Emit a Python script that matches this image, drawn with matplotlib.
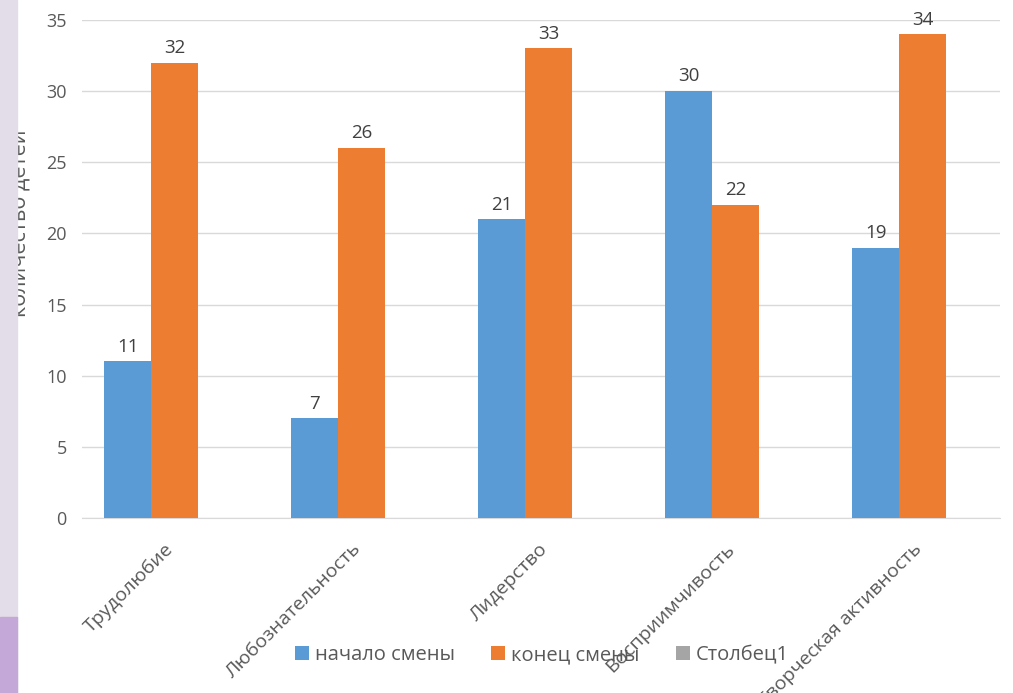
import matplotlib
matplotlib.use('Agg')
import matplotlib.pyplot as plt
import numpy as np
from matplotlib.patches import Rectangle

plt.rcParams['font.family'] = ['Open Sans', 'DejaVu Sans']

categories = ['Трудолюбие', 'Любознательность', 'Лидерство', 'Восприимчивость', 'Творческая активность']
start_vals = [11, 7, 21, 30, 19]   # начало смены
end_vals = [32, 26, 33, 22, 34]    # конец смены
yticks = [0, 5, 10, 15, 20, 25, 30, 35]

blue = '#5B9BD5'
orange = '#ED7D31'
gray = '#A5A5A5'
txt = '#595959'

W, H = 1013, 693
fig = plt.figure(figsize=(W / 100, H / 100), dpi=100)
fig.patch.set_facecolor('white')

# slide background strip on the left (drawn over the clipped axis title)
fig.patches.append(Rectangle((0, 0), 17 / W, 1, transform=fig.transFigure, color='#E2DDE8', zorder=5))
fig.patches.append(Rectangle((0, 0), 17 / W, 76 / H, transform=fig.transFigure, color='#C4A8D8', zorder=6))

ax = fig.add_axes([82 / W, 1 - 518 / H, (1000 - 82) / W, (518 - 20) / H])
x = np.arange(len(categories))
w = 0.25

b1 = ax.bar(x - w / 2, start_vals, w, color=blue, label='начало смены', zorder=3)
b2 = ax.bar(x + w / 2, end_vals, w, color=orange, label='конец смены', zorder=3)
ax.bar(x, [0] * len(x), 0, color=gray, label='Столбец1')

for bars in (b1, b2):
    for r in bars:
        ax.text(r.get_x() + r.get_width() / 2, r.get_height() + 0.4, str(int(r.get_height())),
                ha='center', va='bottom', fontsize=13.5, color='#404040')

ax.set_ylim(0, 35)
ax.set_xlim(-0.369, 4.54)
ax.set_yticks(yticks)
ax.yaxis.grid(True, color='#D9D9D9', linewidth=1, zorder=0)
# category labels sit a little right of the group centre (ticks are hidden)
ax.set_xticks(x + 0.07)
ax.set_xticklabels(categories, rotation=45, ha='right', rotation_mode='anchor', fontsize=14, color=txt)
ax.tick_params(axis='y', labelsize=13, labelcolor=txt, length=0, pad=11)
ax.tick_params(axis='x', length=0, pad=16)
for s in ['top', 'right', 'left']:
    ax.spines[s].set_visible(False)
ax.spines['bottom'].set_color('#D9D9D9')

fig.text(21 / W, 1 - 223 / H, 'количество детей', rotation=90, ha='center', va='center',
         fontsize=15.5, color=txt, zorder=1)

leg = fig.legend(loc='center', bbox_to_anchor=(542 / W, 1 - 655 / H), ncol=3, frameon=False,
                 fontsize=14.5, handlelength=0.7, handleheight=0.7, handletextpad=0.3, columnspacing=1.8)
for t in leg.get_texts():
    t.set_color(txt)

fig.savefig('out.png', dpi=100)
